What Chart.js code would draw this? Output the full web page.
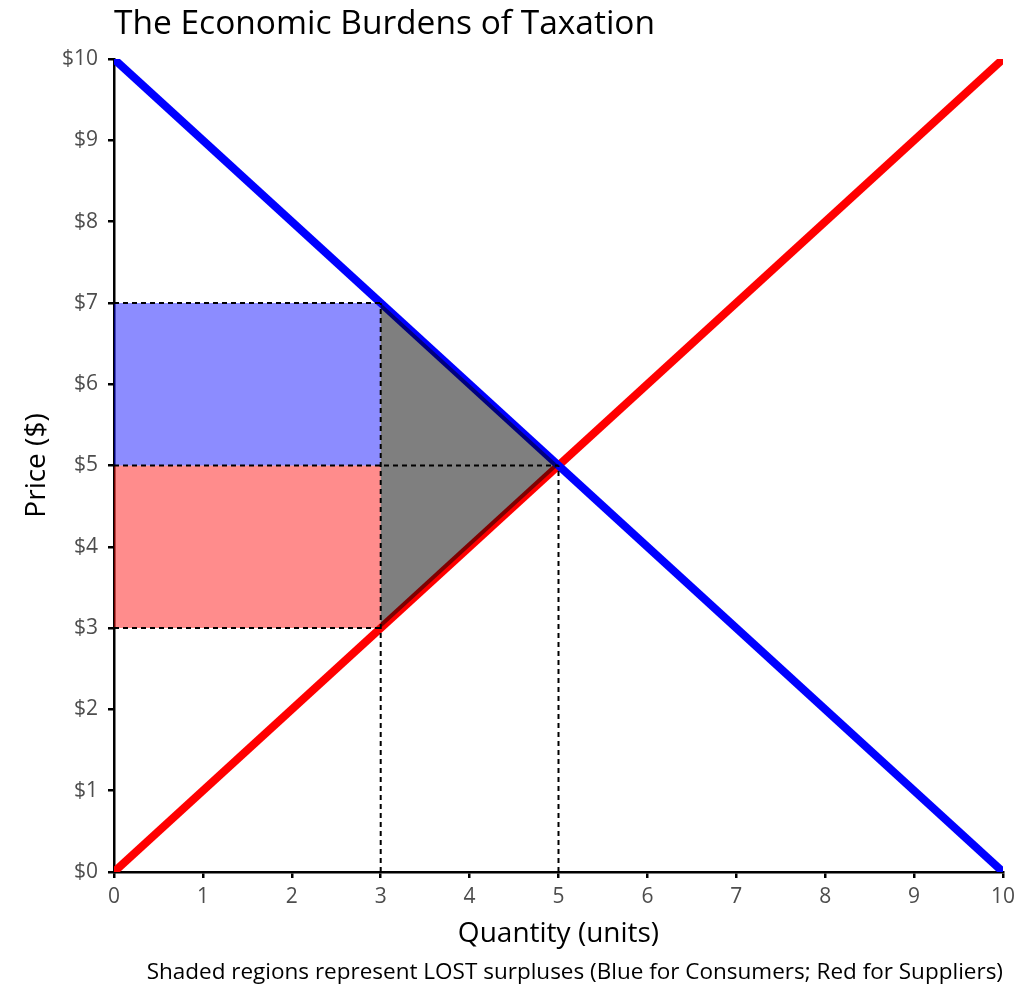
<!DOCTYPE html>
<html>
<head>
<meta charset="utf-8">
<title>The Economic Burdens of Taxation</title>
<script src="https://cdn.jsdelivr.net/npm/chart.js@4.4.0/dist/chart.umd.min.js"></script>
<style>
  html, body { margin: 0; padding: 0; background: #fff; }
  canvas { display: block; }
</style>
</head>
<body>
<canvas id="taxChart" width="1033" height="986"></canvas>
<script>
// Supply and demand
const quantities = [0, 10];
const demandPrices = [10, 0];
const supplyPrices = [0, 10];

// Lost consumer surplus (blue)
const consumerX = [0, 0, 3, 3, 0];
const consumerY = [5, 7, 7, 5, 5];

// Lost producer surplus (red)
const supplierX = [0, 0, 3, 3, 0];
const supplierY = [3, 5, 5, 3, 3];

// Deadweight loss triangle
const deadweightX = [3, 5, 3, 3];
const deadweightY = [7, 5, 3, 7];

// Dashed guide segments [x1, y1, x2, y2]
const guides = [
    [0, 7, 3, 7],
    [0, 5, 5, 5],
    [0, 3, 3, 3],
    [3, 0, 3, 7],
    [5, 0, 5, 5]
];

const xTicks = [0, 1, 2, 3, 4, 5, 6, 7, 8, 9, 10];
const yTicks = [0, 1, 2, 3, 4, 5, 6, 7, 8, 9, 10];

const FONT = '"Open Sans"';

function pts(xs, ys) {
    return xs.map((x, i) => ({ x: x, y: ys[i] }));
}

function area(xs, ys, color, order) {
    return {
        data: pts(xs, ys),
        backgroundColor: color,
        borderWidth: 0,
        pointRadius: 0,
        fill: 'shape',
        order: order
    };
}

function line(xs, ys, color, width, dash, order) {
    return {
        data: pts(xs, ys),
        borderColor: color,
        borderWidth: width,
        borderDash: dash,
        pointRadius: 0,
        fill: false,
        order: order
    };
}

const datasets = [];
guides.forEach(g => datasets.push(line([g[0], g[2]], [g[1], g[3]], '#000', 2, [5, 4], 0)));
datasets.push(area(deadweightX, deadweightY, 'rgba(0,0,0,0.5)', 1));
datasets.push(line(quantities, demandPrices, '#0000ff', 8, [], 2));
datasets.push(line(quantities, supplyPrices, '#ff0000', 8, [], 2));
datasets.push(area(consumerX, consumerY, 'rgba(0,0,255,0.45)', 3));
datasets.push(area(supplierX, supplierY, 'rgba(255,0,0,0.45)', 3));

// Titles and caption drawn around the plot area
const textPlugin = {
    id: 'labels',
    afterDraw(chart) {
        const ctx = chart.ctx;
        const a = chart.chartArea;
        ctx.save();
        ctx.fillStyle = '#000';

        ctx.font = '33.5px ' + FONT;
        ctx.textAlign = 'left';
        ctx.textBaseline = 'alphabetic';
        ctx.fillText('The Economic Burdens of Taxation', a.left, 34);

        ctx.font = '28px ' + FONT;
        ctx.textAlign = 'center';
        ctx.fillText('Quantity (units)', (a.left + a.right) / 2, 942);

        ctx.save();
        ctx.translate(37, (a.top + a.bottom) / 2);
        ctx.rotate(-Math.PI / 2);
        ctx.textBaseline = 'middle';
        ctx.fillText('Price ($)', 0, 0);
        ctx.restore();

        ctx.font = '22.5px ' + FONT;
        ctx.textAlign = 'right';
        ctx.textBaseline = 'alphabetic';
        ctx.fillText('Shaded regions represent LOST surpluses (Blue for Consumers; Red for Suppliers)', a.right, 979);
        ctx.restore();
    }
};

new Chart(document.getElementById('taxChart'), {
    type: 'line',
    data: { datasets: datasets },
    options: {
        responsive: false,
        animation: false,
        devicePixelRatio: 1,
        layout: { padding: { top: 59, right: 30, left: 0, bottom: 0 } },
        plugins: {
            legend: { display: false },
            tooltip: { enabled: false }
        },
        scales: {
            x: {
                type: 'linear',
                min: 0,
                max: 10,
                afterFit: s => { s.height = 114; },
                afterBuildTicks: s => { s.ticks = xTicks.map(v => ({ value: v })); },
                grid: { drawOnChartArea: false, drawTicks: true, tickLength: 6, tickColor: '#000', lineWidth: 2.5 },
                border: { display: true, color: '#000', width: 2.5 },
                ticks: { color: '#4d4d4d', font: { family: FONT, size: 21 }, padding: 6 }
            },
            y: {
                type: 'linear',
                min: 0,
                max: 10,
                afterFit: s => { s.width = 114; },
                afterBuildTicks: s => { s.ticks = yTicks.map(v => ({ value: v })); },
                grid: { drawOnChartArea: false, drawTicks: true, tickLength: 6, tickColor: '#000', lineWidth: 2.5 },
                border: { display: true, color: '#000', width: 2.5 },
                ticks: { color: '#4d4d4d', font: { family: FONT, size: 21 }, padding: 10, callback: v => '$' + v }
            }
        }
    },
    plugins: [textPlugin]
});
</script>
</body>
</html>
